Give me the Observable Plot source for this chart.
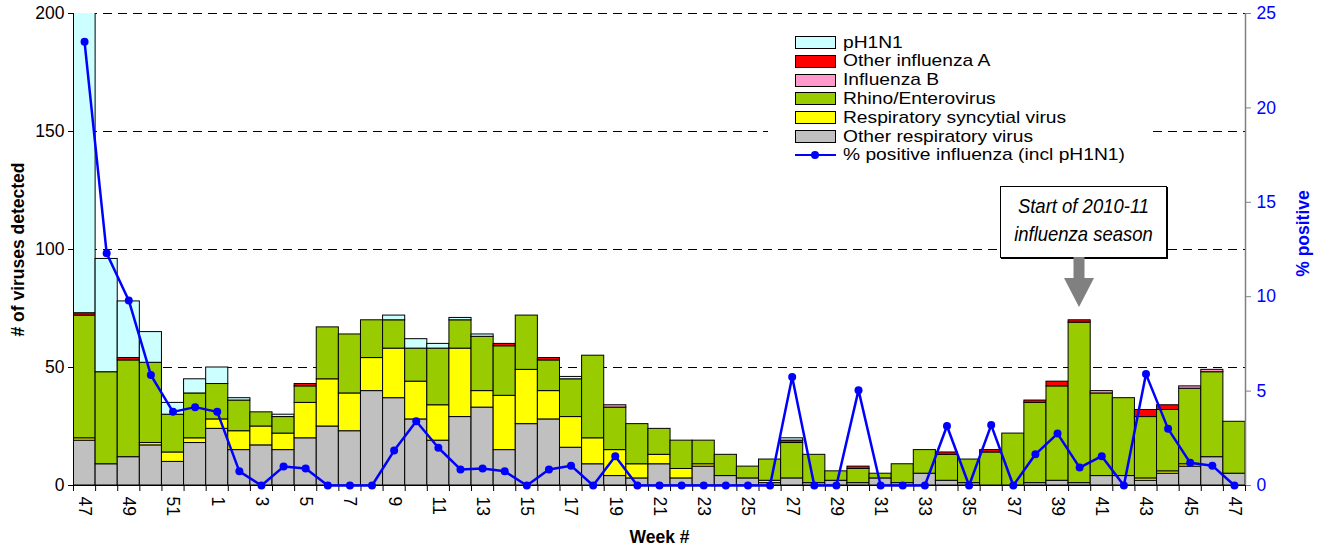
<!DOCTYPE html>
<html>
<head>
<meta charset="utf-8">
<script src="https://cdn.jsdelivr.net/npm/d3@7"></script>
<script src="https://cdn.jsdelivr.net/npm/@observablehq/plot@0.6"></script>
<style>
  html, body { margin: 0; padding: 0; background: #fff; }
  #wrap { position: relative; width: 1320px; height: 548px; font-family: "Liberation Sans", Arial, sans-serif; }
  #wrap svg { position: absolute; left: 0; top: 0; }
  .legend { position: absolute; background: #fff; }
  .legend .row { position: absolute; left: 27px; height: 19px; display: flex; align-items: center; }
  .legend .sw { width: 39px; height: 11px; border: 1px solid #000; box-sizing: content-box; }
  .legend .txt { margin-left: 7px; font-size: 17px; color: #000; white-space: nowrap; transform: scaleX(1.13); transform-origin: left center; }
  .legend .ln { width: 41px; height: 13px; position: relative; }
  .legend .ln::before { content: ""; position: absolute; left: 0; right: 0; top: 5px; height: 2.5px; background: #0000ff; }
  .legend .ln::after { content: ""; position: absolute; left: 16px; top: 2px; width: 8px; height: 8px; border-radius: 50%; background: #0000ff; }
  .note { position: absolute; background: #fff; border: 1px solid #000; box-shadow: 1px 1px 0 #000; text-align: center;
          font-family: "Liberation Sans", Arial, sans-serif; font-style: italic; font-size: 21px; line-height: 28px; color: #000; }
  .note .inner { padding-top: 5px; white-space: nowrap; transform: scaleX(0.88); transform-origin: center top; }
</style>
</head>
<body>
<div id="wrap"></div>
<script>
// ---- data ----
const weeks = [47,48,49,50,51,52,1,2,3,4,5,6,7,8,9,10,11,12,13,14,15,16,17,18,19,20,21,22,23,24,25,26,27,28,29,30,31,32,33,34,35,36,37,38,39,40,41,42,43,44,45,46,47];
const otherResp = [19,9,12,17,10,18,24,15,17,15,20,25,23,40,37,28,19,29,33,15,26,28,16,9,4,3,9,3,8,4,3,1,3,1,2,1,3,1,5,2,1,0,0,1,2,1,4,4,2,5,8,12,5];
const rsv       = [1,0,0,1,4,2,4,8,8,7,15,20,16,14,21,16,15,29,7,23,23,12,13,11,11,6,4,4,1,0,0,1,0,0,0,0,0,0,0,0,0,0,0,0,0,0,0,0,1,1,1,0,0];
const rhino     = [52,39,41,34,16,19,15,13,6,7,7,22,25,16,12,14,24,12,23,21,23,13,16,35,18,17,11,12,10,9,5,9,15,12,4,6,2,8,10,11,10,14,22,34,40,68,35,33,26,26,32,36,22];
const fluB      = [0,0,0,0,0,0,0,0,0,0,0,0,0,0,0,0,0,0,0,0,0,0,0,0,1,0,0,0,0,0,0,0,0,0,0,0,0,0,0,0,0,0,0,0,0,0,1,0,0,0,1,1,0];
const otherFluA = [1,0,1,0,0,0,0,0,0,0,1,0,0,0,0,0,0,0,0,1,0,1,0,0,0,0,0,0,0,0,0,0,1,0,0,1,0,0,0,1,0,1,0,1,2,1,0,0,3,2,0,0,0];
const pH1N1     = [165,48,24,13,5,6,7,1,0,1,0,0,0,0,2,4,2,1,1,0,0,0,1,0,0,0,0,0,0,0,0,0,1,0,0,0,0,0,0,0,0,0,0,0,0,0,0,0,0,0,0,0,0];
const pctPositive = [23.5,12.3,9.8,5.85,3.9,4.15,3.9,0.75,0,1.0,0.9,0,0,0,1.85,3.4,2.0,0.85,0.9,0.75,0,0.85,1.05,0,1.55,0,0,0,0,0,0,0,5.75,0,0,5.05,0,0,0,3.15,0,3.2,0,1.65,2.75,0.95,1.55,0,5.9,3.0,1.2,1.05,0];
const seriesNames = ["Other respiratory virus","Respiratory syncytial virus","Rhino/Enterovirus","Influenza B","Other influenza A","pH1N1"];
const seriesColors = ["#C0C0C0","#FFFF00","#99CC00","#FF99CC","#FF0000","#CCFFFF"];
const legendOrder = ["pH1N1","Other influenza A","Influenza B","Rhino/Enterovirus","Respiratory syncytial virus","Other respiratory virus"];
const leftTicks = [0,50,100,150,200];
const rightTicks = [0,5,10,15,20,25];
const gridValues = [50,100,150,200];
const seasonStartWeekIndex = 45; // week 40 of 2010
const noteText = ["Start of 2010-11","influenza season"];

// ---- build table ----
const seriesValues = [otherResp, rsv, rhino, fluB, otherFluA, pH1N1];
const rows = [];
weeks.forEach((w, i) => {
  seriesNames.forEach((s, k) => {
    const v = seriesValues[k][i];
    if (v > 0) rows.push({i, week: w, series: s, value: v});
  });
});
const pctRows = pctPositive.map((p, i) => ({i, p}));
const yMax = 200, pMax = 25, ratio = yMax / pMax;
const labelIdx = weeks.map((w, i) => i).filter(i => i % 2 === 0);
const boundaries = d3.range(weeks.length + 1);

const plot = Plot.plot({
  width: 1320,
  height: 548,
  marginLeft: 73,
  marginRight: 75,
  marginTop: 13,
  marginBottom: 63,
  style: {fontFamily: "'Liberation Sans', Arial, sans-serif", fontSize: "17.5px", background: "transparent", overflow: "visible"},
  x: {type: "linear", domain: [0, weeks.length]},
  y: {type: "linear", domain: [0, yMax]},
  color: {domain: seriesNames, range: seriesColors},
  marks: [
    Plot.ruleY(gridValues, {stroke: "#000", strokeDasharray: "9,6", strokeWidth: 1}),
    Plot.rectY(rows, {x1: "i", x2: d => d.i + 1, y: "value", fill: "series", stroke: "#000", strokeWidth: 1, clip: true}),
    Plot.ruleY([0], {stroke: "#000"}),
    Plot.ruleX([0], {stroke: "#000"}),
    Plot.ruleX([weeks.length], {stroke: "#808080", strokeWidth: 1.5}),
    Plot.axisY({anchor: "left", ticks: leftTicks, tickSize: 5, tickPadding: 4, label: null, fill: "#000", stroke: "#000"}),
    Plot.axisY({anchor: "right", ticks: rightTicks.map(t => t * ratio), tickFormat: d => d / ratio, tickSize: 5, tickPadding: 6, label: null, fill: "#0000FF", stroke: "#808080"}),
    Plot.axisX({ticks: boundaries, tickSize: 6, tickFormat: () => "", label: null, stroke: "#000"}),
    Plot.text(labelIdx, {x: i => i + 0.5, y: 0, text: i => String(weeks[i]), rotate: 90, textAnchor: "start", lineAnchor: "middle", dy: 11, fill: "#000"}),
    Plot.line(pctRows, {x: d => d.i + 0.5, y: d => d.p * ratio, stroke: "#0000FF", strokeWidth: 2.5}),
    Plot.dot(pctRows, {x: d => d.i + 0.5, y: d => d.p * ratio, r: 4, fill: "#0000FF", stroke: "none"}),
    Plot.text(["# of viruses detected"], {frameAnchor: "left", dx: -55, rotate: -90, textAnchor: "middle", text: d => d, fontWeight: "bold", fontSize: 17.5, fill: "#000"}),
    Plot.text(["Week #"], {frameAnchor: "bottom", dy: 57, textAnchor: "middle", text: d => d, fontWeight: "bold", fontSize: 17.5, fill: "#000"}),
    Plot.text(["% positive"], {frameAnchor: "right", dx: 58, dy: -16, rotate: -90, textAnchor: "middle", text: d => d, fontWeight: "bold", fontSize: 17.5, fill: "#0000FF"})
  ]
});

const wrap = document.getElementById("wrap");
wrap.appendChild(plot);

// ---- legend (HTML overlay) ----
const legend = document.createElement("div");
legend.className = "legend";
Object.assign(legend.style, {left: "768px", top: "29px", width: "384px", height: "139px"});
legendOrder.forEach((name, r) => {
  const row = document.createElement("div");
  row.className = "row";
  row.style.top = (4 + r * 18.8) + "px";
  const sw = document.createElement("div");
  sw.className = "sw";
  sw.style.background = seriesColors[seriesNames.indexOf(name)];
  const tx = document.createElement("span");
  tx.className = "txt";
  tx.textContent = name;
  row.appendChild(sw); row.appendChild(tx);
  legend.appendChild(row);
});
{
  const row = document.createElement("div");
  row.className = "row";
  row.style.top = (4 + 6 * 18.8) + "px";
  const ln = document.createElement("div");
  ln.className = "ln";
  const tx = document.createElement("span");
  tx.className = "txt";
  tx.textContent = "% positive influenza (incl pH1N1)";
  row.appendChild(ln); row.appendChild(tx);
  legend.appendChild(row);
}
wrap.appendChild(legend);

// ---- annotation (positioned with the plot's scales) ----
const xs = plot.scale("x"), ys = plot.scale("y");
const cx = xs.apply(seasonStartWeekIndex + 0.5);
const barTop = seriesValues.reduce((s, arr) => s + arr[seasonStartWeekIndex], 0);
const tipY = ys.apply(barTop) - 14;
const headH = 29, shaftH = 21, boxH = 70, boxW = 165;
const boxBottom = tipY - headH - shaftH;
const note = document.createElement("div");
note.className = "note";
Object.assign(note.style, {left: (cx + 3 - boxW / 2) + "px", top: (boxBottom - boxH) + "px", width: boxW + "px", height: boxH + "px"});
note.innerHTML = `<div class="inner">${noteText[0]}<br>${noteText[1]}</div>`;
wrap.appendChild(note);
const ns = "http://www.w3.org/2000/svg";
const arr = document.createElementNS(ns, "svg");
arr.setAttribute("width", 40); arr.setAttribute("height", headH + shaftH + 2);
arr.style.left = (cx - 20) + "px"; arr.style.top = boxBottom + 1 + "px"; arr.style.position = "absolute";
const poly = document.createElementNS(ns, "polygon");
const sh = shaftH, hh = headH;
poly.setAttribute("points", `14.5,0 25.5,0 25.5,${sh} 35,${sh} 20,${sh + hh} 5,${sh} 14.5,${sh}`);
poly.setAttribute("fill", "#808080");
arr.appendChild(poly);
wrap.appendChild(arr);
</script>
</body>
</html>
